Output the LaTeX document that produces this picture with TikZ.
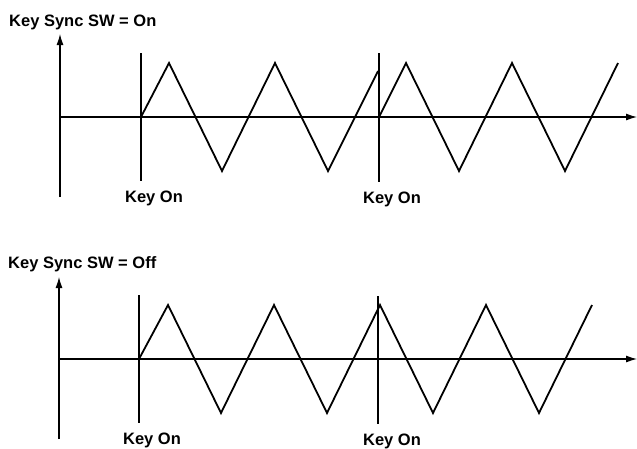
\documentclass[tikz,border=0pt]{standalone}
\usepackage{fontspec}
\setmainfont{Liberation Sans}
\usetikzlibrary{arrows.meta}

\begin{document}
\begin{tikzpicture}[x=1pt, y=-1pt,
  >={Latex[length=11pt, width=7pt]},
  axis/.style={->, line width=1.1pt},
  keyline/.style={line width=1.1pt},
  wave/.style={line width=1.8pt},
  title/.style={font=\fontsize{16.5}{18}\selectfont\bfseries, anchor=base west, inner sep=0pt},
  keylabel/.style={font=\fontsize{16.5}{18}\selectfont\bfseries, anchor=base, inner sep=0pt}
]
\useasboundingbox (0,0) rectangle (637,448);

% ---------- top: key sync on ----------
\node[title] (titleOn) at (9,26) {Key Sync SW = On};
\coordinate (onBot) at (60,197);
\coordinate (onTop) at (60,34);
\coordinate (onO)   at (60,117);
\coordinate (onX)   at (637,117);
\draw[axis] (onBot) -- (onTop);
\draw[axis] (onO) -- (onX);

\coordinate (onK1t) at (141,53);
\coordinate (onK1b) at (141,181);
\coordinate (onK2t) at (379,53);
\coordinate (onK2b) at (379,182);
\draw[keyline] (onK1t) -- (onK1b);
\draw[keyline] (onK2t) -- (onK2b);
\node[keylabel] (onL1) at (154,202) {Key On};
\node[keylabel] (onL2) at (392,203) {Key On};

\draw[wave] (141,117) -- (169,63) -- (222,171) -- (275,63) -- (328,171) -- (378,71);
\draw[wave] (379,117) -- (406,63) -- (459,171) -- (512,63) -- (565,171) -- (618,63);

% ---------- bottom: key sync off ----------
\node[title] (titleOff) at (8,268) {Key Sync SW = Off};
\coordinate (offBot) at (59,439);
\coordinate (offTop) at (59,277);
\coordinate (offO)   at (59,359);
\coordinate (offX)   at (637,359);
\draw[axis] (offBot) -- (offTop);
\draw[axis] (offO) -- (offX);

\coordinate (offK1t) at (139,295);
\coordinate (offK1b) at (139,423);
\coordinate (offK2t) at (378,296);
\coordinate (offK2b) at (378,424);
\draw[keyline] (offK1t) -- (offK1b);
\draw[keyline] (offK2t) -- (offK2b);
\node[keylabel] (offL1) at (152,444) {Key On};
\node[keylabel] (offL2) at (392,445) {Key On};

\draw[wave] (139,359) -- (168,305) -- (221,413) -- (274,305) -- (327,413) -- (380,305)
  -- (433,413) -- (486,305) -- (539,413) -- (592,305);

\end{tikzpicture}
\end{document}
